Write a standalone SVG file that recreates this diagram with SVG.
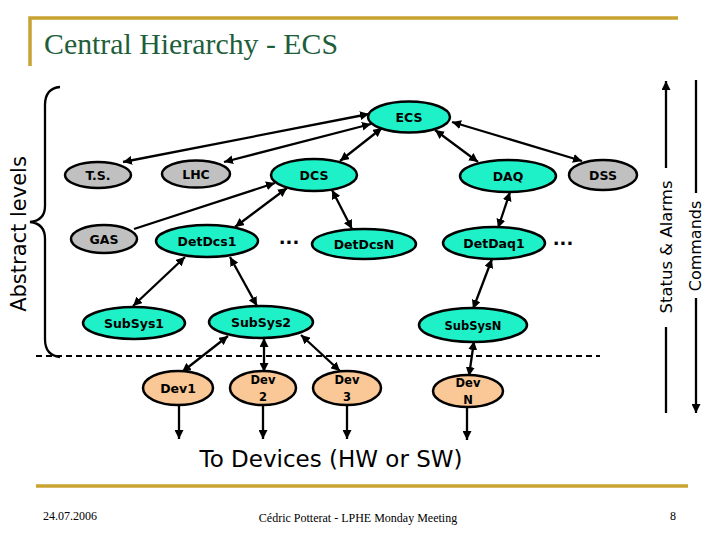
<svg xmlns="http://www.w3.org/2000/svg" width="720" height="540" viewBox="0 0 720 540">
<defs>
<marker id="ah" viewBox="0 0 10 10" refX="10" refY="5" markerWidth="9" markerHeight="9" markerUnits="userSpaceOnUse" orient="auto-start-reverse">
<path d="M0,0 L10,5 L0,10 z" fill="#000"/>
</marker>
<style>
.gold{stroke:#C8A332;stroke-width:3.5;fill:none}
.cyan{fill:#1EF0C8;stroke:#000;stroke-width:2.5}
.gray{fill:#C0C0C0;stroke:#000;stroke-width:2.5}
.peach{fill:#FAC796;stroke:#000;stroke-width:2.5}
.lbl{font-family:"DejaVu Sans","Liberation Sans",sans-serif;font-size:12.5px;font-weight:bold;text-anchor:middle;fill:#000}
.small{font-size:11.5px}
.dots{font-family:"DejaVu Sans","Liberation Sans",sans-serif;font-size:18px;font-weight:bold;text-anchor:middle;fill:#000}
.c{stroke:#000;stroke-width:2.3;fill:none}
.c2{stroke:#000;stroke-width:2.3;fill:none;marker-start:url(#ah);marker-end:url(#ah)}
.c1{stroke:#000;stroke-width:2.3;fill:none;marker-end:url(#ah)}
.hand{font-family:"DejaVu Sans","Liberation Sans",sans-serif;fill:#000}
.foot{font-family:"Liberation Serif","DejaVu Serif",serif;font-size:12px;fill:#000}
</style>
</defs>
<rect width="720" height="540" fill="#fff"/>

<g id="frame">
<path class="gold" d="M30,66 L30,18 L678,18"/>
<line class="gold" x1="36" y1="486" x2="688" y2="486"/>
<text x="44" y="54" font-family="Liberation Serif,serif" font-size="29" textLength="294" lengthAdjust="spacingAndGlyphs" fill="#1E5E3A">Central Hierarchy - ECS</text>
</g>

<g id="connectors">
<line class="c2" x1="369" y1="114" x2="123" y2="162"/>
<line class="c2" x1="371" y1="124" x2="224" y2="162"/>
<line class="c2" x1="382" y1="128" x2="340" y2="161"/>
<line class="c2" x1="435" y1="130" x2="478" y2="162"/>
<line class="c2" x1="452" y1="122" x2="582" y2="161"/>
<line class="c1" x1="134" y1="229" x2="275" y2="183"/>
<line class="c2" x1="287" y1="188" x2="235" y2="227"/>
<line class="c2" x1="332" y1="190" x2="352" y2="229"/>
<line class="c2" x1="510" y1="192" x2="498" y2="228"/>
<line class="c2" x1="185" y1="257" x2="133" y2="306"/>
<line class="c2" x1="230" y1="257" x2="257" y2="306"/>
<line class="c2" x1="492" y1="259" x2="473" y2="309"/>
<line class="c2" x1="228" y1="336" x2="182" y2="372"/>
<line class="c2" x1="264" y1="338" x2="264" y2="372"/>
<line class="c2" x1="301" y1="335" x2="340" y2="371"/>
<line class="c2" x1="474" y1="341" x2="469" y2="376"/>
<line class="c1" x1="179" y1="405" x2="179" y2="439"/>
<line class="c1" x1="263" y1="405" x2="263" y2="439"/>
<line class="c1" x1="347" y1="405" x2="347" y2="439"/>
<line class="c1" x1="467" y1="407" x2="467" y2="440"/>
<line class="c" x1="666" y1="413" x2="666" y2="327"/>
<line class="c1" x1="666" y1="168" x2="666" y2="81"/>
<line class="c" x1="696" y1="80" x2="696" y2="193"/>
<line class="c1" x1="696" y1="298" x2="696" y2="413"/>
</g>

<g id="ECS"><ellipse class="cyan" cx="409" cy="117" rx="41" ry="15.5"/><text class="lbl" x="409" y="122">ECS</text></g>
<g id="TS"><ellipse class="gray" cx="98" cy="175" rx="33" ry="13"/><text class="lbl" x="98" y="180">T.S.</text></g>
<g id="LHC"><ellipse class="gray" cx="196" cy="174" rx="34" ry="13.5"/><text class="lbl" x="196" y="179">LHC</text></g>
<g id="DCS"><ellipse class="cyan" cx="314" cy="175" rx="43" ry="16"/><text class="lbl" x="314" y="180">DCS</text></g>
<g id="DAQ"><ellipse class="cyan" cx="508" cy="176" rx="48" ry="16"/><text class="lbl" x="508" y="181">DAQ</text></g>
<g id="DSS"><ellipse class="gray" cx="603" cy="175" rx="34" ry="15"/><text class="lbl" x="603" y="180">DSS</text></g>
<g id="GAS"><ellipse class="gray" cx="104" cy="239" rx="33" ry="14"/><text class="lbl" x="104" y="244">GAS</text></g>
<g id="DetDcs1"><ellipse class="cyan" cx="207" cy="241" rx="51" ry="16"/><text class="lbl" x="207" y="246">DetDcs1</text></g>
<g id="DetDcsN"><ellipse class="cyan" cx="364" cy="244" rx="52" ry="15"/><text class="lbl" x="364" y="249">DetDcsN</text></g>
<g id="DetDaq1"><ellipse class="cyan" cx="494" cy="243" rx="51" ry="16"/><text class="lbl" x="494" y="248">DetDaq1</text></g>
<g id="SubSys1"><ellipse class="cyan" cx="134" cy="323" rx="51" ry="16"/><text class="lbl" x="134" y="328">SubSys1</text></g>
<g id="SubSys2"><ellipse class="cyan" cx="261" cy="322" rx="52" ry="16"/><text class="lbl" x="261" y="327">SubSys2</text></g>
<g id="SubSysN"><ellipse class="cyan" cx="473" cy="325" rx="54" ry="17"/><text class="lbl small" x="473" y="330">SubSysN</text></g>
<g id="Dev1"><ellipse class="peach" cx="178" cy="388" rx="35" ry="17"/><text class="lbl" x="178" y="393">Dev1</text></g>
<g id="Dev2"><ellipse class="peach" cx="263" cy="388" rx="33" ry="17"/><text class="lbl small" x="263" y="384">Dev</text><text class="lbl small" x="263" y="401">2</text></g>
<g id="Dev3"><ellipse class="peach" cx="347" cy="388" rx="34" ry="17"/><text class="lbl small" x="347" y="384">Dev</text><text class="lbl small" x="347" y="401">3</text></g>
<g id="DevN"><ellipse class="peach" cx="468" cy="391" rx="35" ry="16"/><text class="lbl small" x="468" y="387">Dev</text><text class="lbl small" x="468" y="404">N</text></g>

<g id="ellipses">
<text class="dots" x="289" y="244">...</text>
<text class="dots" x="563" y="245">...</text>
</g>

<g id="abstract-levels">
<path class="c" d="M60,87 C49,88 45,95 45,105 L45,206 C45,216 40,221 30,222 C40,223 45,229 45,239 L45,339 C45,350 50,356 60,357"/>
<text class="hand" font-size="21" text-anchor="middle" transform="translate(26,234) rotate(-90)">Abstract levels</text>
<line x1="36" y1="356" x2="600" y2="356" stroke="#000" stroke-width="2" stroke-dasharray="6,4"/>
</g>

<g id="side-labels">
<text class="hand" font-size="16.5" text-anchor="middle" transform="translate(672,247) rotate(-90)">Status &amp; Alarms</text>
<text class="hand" font-size="16" text-anchor="middle" transform="translate(701,246) rotate(-90)">Commands</text>
</g>

<text class="hand" x="331" y="467" font-size="23" text-anchor="middle">To Devices (HW or SW)</text>

<g id="footer">
<text class="foot" x="43" y="520">24.07.2006</text>
<text class="foot" x="358" y="522" text-anchor="middle">Cédric Potterat - LPHE Monday Meeting</text>
<text class="foot" x="676" y="520" text-anchor="end">8</text>
</g>
</svg>
